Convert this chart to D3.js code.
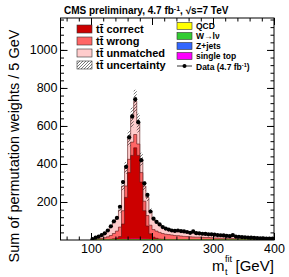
<!DOCTYPE html>
<html>
<head>
<meta charset="utf-8">
<script src="https://cdn.jsdelivr.net/npm/d3@7"></script>
<style>
body { margin: 0; background: #fff; }
text { font-family: "Liberation Sans", Arial, Helvetica, sans-serif; }
</style>
</head>
<body>
<svg class="chart"></svg>
<script>
var width = 289, height = 277;

// lower edges of the 5 GeV bins
var binLow = [100,105,110,115,120,125,130,135,140,145,150,155,160,165,170,175,180,185,190,195,
              200,205,210,215,220,225,230,235,240,245,250,255,260,265,270,275,280,285,290,295,
              300,305,310,315,320,325,330,335,340,345,350,355,360,365,370,375,380,385,390,395];
var binWidth = 5;

var dataVals = [5,12,18,26,35,50,72,98,116,175,305,385,540,650,740,620,420,298,237,150,
                112,95,82,68,60,55,50,48,50,47,45,42,38,45,36,35,33,32,30,30,
                28,26,25,24,22,20,26,18,17,15,14,13,12,11,10,9,9,8,7,7];

var correct = [0,0,0,0,1,1,2,4,8,15,80,220,350,440,480,440,300,150,70,30,
               12,6,3,2,1,1,1,0,0,0,0,0,0,0,0,0,0,0,0,0,
               0,0,0,0,0,0,0,0,0,0,0,0,0,0,0,0,0,0,0,0];
var wrong = [2,4,6,8,10,14,20,28,36,50,70,60,70,70,70,60,50,50,55,45,
             40,38,35,30,28,26,24,22,22,20,18,17,16,15,14,14,13,12,12,11,
             10,10,9,9,8,8,7,7,6,6,6,5,5,5,4,4,4,3,3,3];
var unmatched = [2,6,10,15,22,32,45,60,70,90,130,95,110,130,175,110,70,80,95,75,
                 55,48,42,36,32,28,26,25,24,23,22,21,20,20,19,18,18,17,16,16,
                 15,14,14,13,12,12,11,10,10,9,9,8,8,7,7,6,6,5,5,5];
var singleTop = [0,0,0.5,0.5,0.5,1,1,1,1.5,1.5,2,2,2.5,3,3,3,2.5,2,2,1.5,
                 1.5,1.5,1,1,1,1,1,1,0.5,0.5,0.5,0.5,0.5,0.5,0.5,0.5,0.5,0.5,0.5,0.5,
                 0.5,0.5,0.5,0.5,0,0,0,0,0,0,0,0,0,0,0,0,0,0,0,0];
var zjets = [0,0,0,0,0,0,0,0.3,0.3,0.3,0.3,0.3,0.3,0.3,0.3,0.3,0.3,0.3,0.3,0.3,
             0.3,0.3,0,0,0,0,0,0,0,0,0,0,0,0,0,0,0,0,0,0,
             0,0,0,0,0,0,0,0,0,0,0,0,0,0,0,0,0,0,0,0];
var wjets = [0,0.3,0.3,0.3,0.5,0.5,0.5,1,1,1,1.5,1.5,1.5,1.5,1.5,1.5,1.5,1.5,1,1,
             1,1,1,1,0.5,0.5,0.5,0.5,0.5,0.5,0.5,0.5,0.5,0.5,0.5,0.5,0.5,0.5,0.5,0.5,
             0.3,0.3,0.3,0.3,0.3,0.3,0.3,0.3,0.3,0.3,0.3,0.3,0.3,0.3,0.3,0.3,0.3,0.3,0.3,0.3];
var qcd = [0,0,0,0,0,0,0,0,0,0.3,0.3,0.3,0.3,0.3,0.3,0.3,0.3,0.3,0.3,0,
           0,0,0,0,0,0,0,0,0,0,0,0,0,0,0,0,0,0,0,0,
           0,0,0,0,0,0,0,0,0,0,0,0,0,0,0,0,0,0,0,0];
// ttbar systematic uncertainty per bin
var ttUnc = [1,2,2,3,4,5,6,8,10,13,24,31,42,52,60,50,34,24,19,13,
             9,8,7,6,5,5,4,4,4,4,4,3,3,3,3,3,3,3,3,3,
             2,2,2,2,2,2,2,2,2,2,2,2,2,1,1,1,1,1,1,1];

var xTicks = [100,200,300,400];
var yTicks = [200,400,600,800,1000];

// stack order from bottom to top
var stackNames = ["QCD","W\u2192l\u03bd","Z+jets","single top","correct","wrong","unmatched"];
var stackVals = [qcd, wjets, zjets, singleTop, correct, wrong, unmatched];
var stackColors = ["#ffff00","#33cc33","#3366ff","#ff00ff","#cc0000","#ff6666","#ffcccc"];

var chart = d3.select(".chart")
    .attr("width", width)
    .attr("height", height);

var x = d3.scaleLinear().domain([50,400]).range([60.5,274]);
var y = d3.scaleLinear().domain([0,1168]).range([240,18]);

var defs = chart.append("defs");
defs.append("clipPath").attr("id","frame")
    .append("rect").attr("x",60.5).attr("y",18).attr("width",213.5).attr("height",222);
var pat = defs.append("pattern").attr("id","hatch")
    .attr("patternUnits","userSpaceOnUse")
    .attr("width",3).attr("height",3);
pat.append("path").attr("d","M-1,1 l2,-2 M0,3 l3,-3 M2,4 l2,-2")
    .attr("stroke","#222").attr("stroke-width",0.6);

// cumulative sums
var cum = [];
var run = binLow.map(function() { return 0; });
stackVals.forEach(function(v) {
    run = run.map(function(r, i) { return r + v[i]; });
    cum.push(run.slice());
});
var total = cum[cum.length-1];

function stepPath(vals) {
    var p = "M" + x(binLow[0]) + "," + y(0);
    vals.forEach(function(v, i) {
        p += "L" + x(binLow[i]) + "," + y(v) + "L" + x(binLow[i]+binWidth) + "," + y(v);
    });
    p += "L" + x(binLow[binLow.length-1]+binWidth) + "," + y(0) + "Z";
    return p;
}

var plot = chart.append("g").attr("clip-path","url(#frame)");

// draw top of stack first so lower layers cover it
for (var k = cum.length-1; k >= 0; k--) {
    plot.append("path")
        .attr("d", stepPath(cum[k]))
        .attr("fill", stackColors[k])
        .attr("stroke", k >= 4 ? "#551111" : stackColors[k])
        .attr("stroke-width", 0.6);
}

// hatched uncertainty band
var band = "";
binLow.forEach(function(b, i) {
    band += "M" + x(b) + "," + y(total[i] + ttUnc[i]) +
            "H" + x(b + binWidth) + "V" + y(Math.max(total[i] - ttUnc[i], 0)) +
            "H" + x(b) + "Z";
});
plot.append("path").attr("d", band).attr("fill","url(#hatch)").attr("stroke","none");

// data points
var pts = plot.selectAll("g.pt")
    .data(dataVals)
    .enter().append("g")
    .attr("class","pt");
pts.append("line")
    .attr("x1", function(d,i) { return x(binLow[i]+binWidth/2); })
    .attr("x2", function(d,i) { return x(binLow[i]+binWidth/2); })
    .attr("y1", function(d) { return y(d + Math.sqrt(d)/2); })
    .attr("y2", function(d) { return y(Math.max(d - Math.sqrt(d)/2, 0)); })
    .attr("stroke","black").attr("stroke-width",0.8);
pts.append("circle")
    .attr("cx", function(d,i) { return x(binLow[i]+binWidth/2); })
    .attr("cy", function(d) { return y(d); })
    .attr("r", 2.1)
    .attr("fill","black");

// axes, ticks inside the frame
function addAxis(axis, tf) {
    var g = chart.append("g").attr("transform", tf).call(axis);
    g.select(".domain").remove();
    g.selectAll("text").style("font-size","12.5px").attr("fill","black");
    return g;
}
var minorX = d3.range(60,400,20), minorY = d3.range(40,1168,40);
addAxis(d3.axisBottom(x).tickValues(xTicks).tickSize(-7).tickPadding(4), "translate(0,240)");
addAxis(d3.axisBottom(x).tickValues(minorX).tickSize(-3.5).tickFormat(""), "translate(0,240)");
addAxis(d3.axisTop(x).tickValues(xTicks).tickSize(-7).tickFormat(""), "translate(0,18)");
addAxis(d3.axisTop(x).tickValues(minorX).tickSize(-3.5).tickFormat(""), "translate(0,18)");
addAxis(d3.axisLeft(y).tickValues(yTicks).tickSize(-7).tickPadding(3).tickFormat(d3.format("d")), "translate(60.5,0)");
addAxis(d3.axisLeft(y).tickValues(minorY).tickSize(-3.5).tickFormat(""), "translate(60.5,0)");
addAxis(d3.axisRight(y).tickValues(yTicks).tickSize(-7).tickFormat(""), "translate(274,0)");
addAxis(d3.axisRight(y).tickValues(minorY).tickSize(-3.5).tickFormat(""), "translate(274,0)");

chart.append("rect")
    .attr("x",60.5).attr("y",18).attr("width",213.5).attr("height",222)
    .attr("fill","none").attr("stroke","black").attr("stroke-width",1);

// title
var title = chart.append("text").attr("x",64).attr("y",14)
    .style("font-size","10px").style("font-weight","bold");
title.append("tspan").text("CMS preliminary, 4.7 fb");
title.append("tspan").attr("dy",-3.5).style("font-size","7px").text("-1");
title.append("tspan").attr("dy",3.5).text(", \u221as=7 TeV");

// axis labels
chart.append("text")
    .attr("transform","translate(19,146) rotate(-90)")
    .attr("text-anchor","middle")
    .style("font-size","14.5px")
    .text("Sum of permutation weights / 5 GeV");
chart.append("text").attr("x",212).attr("y",271).style("font-size","15px").text("m");
chart.append("text").attr("x",225).attr("y",262).style("font-size","9px").text("fit");
chart.append("text").attr("x",225).attr("y",274.5).style("font-size","9px").text("t");
chart.append("text").attr("x",235.5).attr("y",271).style("font-size","15px").text("[GeV]");

// left legend (ttbar)
var legL = ["correct","wrong","unmatched","uncertainty"];
var legLFill = ["#cc0000","#ff6666","#ffcccc","url(#hatch)"];
legL.forEach(function(name, i) {
    var yy = 25 + i * 12;
    chart.append("rect").attr("x",77).attr("y",yy).attr("width",15).attr("height",8)
        .attr("fill",legLFill[i]).attr("stroke","#333").attr("stroke-width",0.6);
    chart.append("text").attr("x",96).attr("y",yy+8)
        .style("font-size","11px").style("font-weight","bold")
        .text("tt\u0304 " + name);
});

// right legend (backgrounds + data)
var legR = ["QCD","W\u2192l\u03bd","Z+jets","single top"];
var legRFill = ["#ffff00","#33cc33","#3366ff","#ff00ff"];
legR.forEach(function(name, i) {
    var yy = 22.5 + i * 10;
    chart.append("rect").attr("x",177).attr("y",yy).attr("width",15).attr("height",7)
        .attr("fill",legRFill[i]).attr("stroke","#333").attr("stroke-width",0.6);
    chart.append("text").attr("x",196).attr("y",yy+6.8)
        .style("font-size","8.5px").style("font-weight","bold")
        .text(name);
});
chart.append("line").attr("x1",177).attr("x2",192).attr("y1",66).attr("y2",66)
    .attr("stroke","black").attr("stroke-width",0.8);
chart.append("circle").attr("cx",184.5).attr("cy",66).attr("r",2).attr("fill","black");
var dl = chart.append("text").attr("x",196).attr("y",69.5)
    .style("font-size","8.5px").style("font-weight","bold");
dl.append("tspan").text("Data (4.7 fb");
dl.append("tspan").attr("dy",-2.5).style("font-size","5.5px").text("-1");
dl.append("tspan").attr("dy",2.5).text(")");
</script>
</body>
</html>
